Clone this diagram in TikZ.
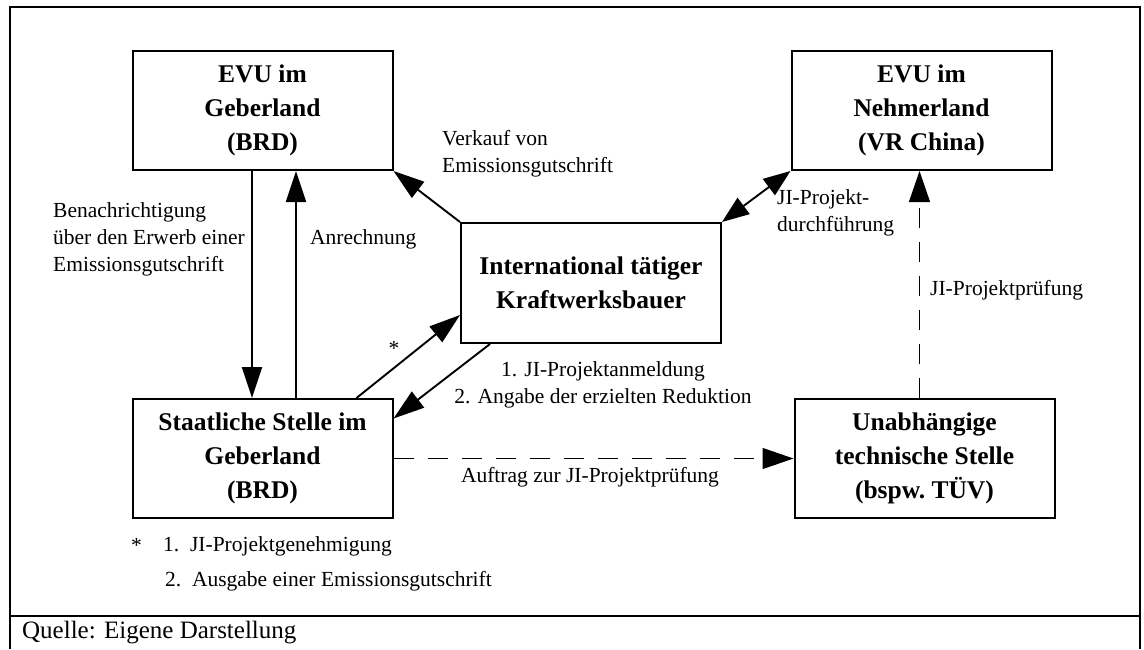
\documentclass[tikz,border=0pt]{standalone}
\usepackage{fontspec}
\setmainfont{Liberation Serif}
\usetikzlibrary{arrows.meta, positioning}

\begin{document}
\begin{tikzpicture}[x=1pt, y=-1pt, node distance=1cm]
    % Styles
    \tikzstyle{block} = [rectangle, draw, line width=2pt, minimum width=260pt, minimum height=119pt, inner sep=0pt, align=center, font=\fontsize{25.5}{34}\selectfont\bfseries]
    \tikzstyle{note} = [inner sep=0pt, align=left, font=\fontsize{21.5}{27}\selectfont]
    \tikzstyle{line} = [draw, line width=1.9pt, -{Triangle[length=31pt, width=20pt]}]
    \tikzstyle{twoway} = [draw, line width=1.9pt, {Triangle[length=27pt, width=20pt]}-{Triangle[length=27pt, width=20pt]}]
    \tikzstyle{check} = [draw, line width=1.1pt, dash pattern=on 20pt off 14pt, -{Triangle[length=31pt, width=21pt]}]

    \useasboundingbox (0,0) rectangle (1144,649);

    % Frame
    \draw [line width=1.8pt] (10,649) -- (10,7) -- (1140,7) -- (1140,649);
    \draw [line width=1.8pt] (10,616) -- (1140,616);

    % Nodes
    \node [block] (evugeber) at (262.5,110.5) {EVU im\\Geberland\\(BRD)};
    \node [block, right=397pt of evugeber] (evunehmer) {EVU im\\Nehmerland\\(VR China)};
    \node [block, below=227pt of evugeber] (staat) {Staatliche Stelle im\\Geberland\\(BRD)};
    \node [block, right=400pt of staat] (tuev) {Unabhängige\\technische Stelle\\(bspw.\ TÜV)};
    \node [block, minimum height=120pt] (bauer) at (591,283) {International tätiger\\Kraftwerksbauer};

    % Labels
    \node [note, anchor=west] (verkauf) at (442,154) {Verkauf von\\Emissionsgutschrift};
    \node [note, anchor=west] (benachr) at (53,239) {Benachrichtigung\\über den Erwerb einer\\Emissionsgutschrift};
    \node [note, anchor=west] (anrechnung) at (310,239) {Anrechnung};
    \node [note, anchor=west] (durchf) at (777,213) {JI-Projekt-\\durchführung};
    \node [note, anchor=west] (pruefung) at (930,290) {JI-Projektprüfung};
    \node [note] (stern) at (394,348) {*};
    \node [note, align=center] (anmeldung) at (603,385) {1. JI-Projektanmeldung\\2. Angabe der erzielten Reduktion};
    \node [note] (auftrag) at (590,477) {Auftrag zur JI-Projektprüfung};
    \node [note, anchor=west] (fussstern) at (131,545) {*};
    \node [note, anchor=west, font=\fontsize{21.5}{35}\selectfont] (fussnote) at (163,564) {1.\ \ JI-Projektgenehmigung\\\hspace*{2pt}2.\ \ Ausgabe einer Emissionsgutschrift};
    \node [note, anchor=west, font=\fontsize{25}{30}\selectfont] (quelle) at (22,633) {Quelle: Eigene Darstellung};

    % Paths
    \path [line] ([xshift=-10.5pt]evugeber.south) -- ([xshift=-10.5pt]staat.north);
    \path [line] ([xshift=33.5pt]staat.north) -- ([xshift=33.5pt]evugeber.south);
    \path [line] (bauer.north west) -- (evugeber.south east);
    \path [twoway] (bauer.north east) -- (evunehmer.south west);
    \path [line] ([xshift=94pt]staat.north) -- ([yshift=-32pt]bauer.west);
    \path [line] ([xshift=-101pt]bauer.south) -- ([yshift=40pt]staat.east);
    \path [check] (staat.east) -- (tuev.west);
    \path [check] ([xshift=-5pt]tuev.north) -- ([xshift=-5pt]tuev.north |- evunehmer.south);
\end{tikzpicture}
\end{document}
